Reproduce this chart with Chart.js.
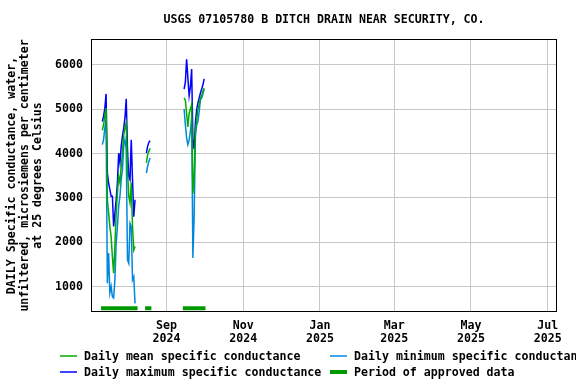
<!DOCTYPE html>
<html>
<head>
<meta charset="utf-8">
<script src="https://cdn.jsdelivr.net/npm/chart.js@4"></script>
<style>
  html, body { margin: 0; padding: 0; background: #fff; }
</style>
</head>
<body>
<canvas id="myChart" width="576" height="384"></canvas>
<script>
'use strict';

// days with data (consecutive days inside each range)
const dataRanges = [['2024-07-12', '2024-08-07'], ['2024-08-16', '2024-08-19'], ['2024-09-15', '2024-10-01']];

const meanVals = [
    4520, 4650, 4850, 5020, 2960, 2660, 2360, 2130, 1680, 1310, 1910, 2660, 3110, 3490,
    3340, 3710, 4010, 4420, 4570, 4690, 3640, 3040, 2890, 3340, 2360, 1830, 1910,
    3790, 3970, 4050, 4120,
    5250, 5200, 4900, 4600, 4900, 5000, 5100, 3100, 3500, 4500, 4760, 4990, 5100, 5250, 5300, 5400, 5470
];
const minVals = [
    4200, 4310, 4570, 4760, 1080, 1760, 860, 1010, 780, 750, 1160, 1980, 2360, 2810,
    3040, 3410, 3640, 4160, 4310, 4090, 1610, 1530, 2430, 2360, 1160, 1230, 630,
    3560, 3710, 3820, 3900,
    5000, 4650, 4350, 4200, 4300, 4500, 4800, 1650, 2600, 4400, 4650, 4720, 4950, 5210, 5250, 5350, 5440
];
const maxVals = [
    4720, 4840, 5020, 5340, 3560, 3340, 3190, 3040, 3040, 2360, 2660, 2960, 3340, 4010,
    3790, 4160, 4390, 4570, 4800, 5230, 4090, 3490, 3410, 4310, 3410, 2580, 2960,
    4010, 4160, 4250, 4290,
    5450, 5600, 6120, 5700, 5300, 5500, 5900, 4300, 4100, 4700, 4990, 5140, 5250, 5360, 5450, 5550, 5680
];

const approvedPeriods = [['2024-07-11', '2024-08-09'], ['2024-08-15', '2024-08-20'], ['2024-09-14', '2024-10-02']];
const approvedLevel = 520;

const tickDates = ['2024-09-01', '2024-11-01', '2025-01-01', '2025-03-01', '2025-05-01', '2025-07-01'];
const tickLabels = [['Sep', '2024'], ['Nov', '2024'], ['Jan', '2025'], ['Mar', '2025'], ['May', '2025'], ['Jul', '2025']];
const yTicks = [1000, 2000, 3000, 4000, 5000, 6000];

function dayNum(s) {
    const [y, m, d] = s.split('-').map(Number);
    return Date.UTC(y, m - 1, d) / 86400000;
}

const days = [];
dataRanges.forEach(([a, b]) => {
    for (let d = dayNum(a); d <= dayNum(b); d++) days.push(d);
});
const pts = vals => vals.map((v, i) => ({x: days[i], y: v}));

const approvedPts = [];
approvedPeriods.forEach(([a, b]) => {
    approvedPts.push({x: dayNum(a), y: approvedLevel}, {x: dayNum(b), y: approvedLevel}, {x: dayNum(b), y: null});
});

const mono = "'DejaVu Sans Mono', monospace";
const font = {family: mono, size: 11.6, weight: 'bold', lineHeight: '13px'};
const sep1 = dayNum('2024-09-01');

const legendItems = [
    {text: 'Daily mean specific conductance', color: '#00aa00', lw: 1.5, x: 60, y: 356},
    {text: 'Daily minimum specific conductance', color: '#0088dd', lw: 1.5, x: 330, y: 356},
    {text: 'Daily maximum specific conductance', color: '#0000ff', lw: 1.5, x: 60, y: 372},
    {text: 'Period of approved data', color: '#009900', lw: 4, x: 330, y: 372}
];

const extras = {
    id: 'extras',
    afterDraw(chart) {
        const {ctx, chartArea: a} = chart;
        ctx.save();
        ctx.strokeStyle = '#000';
        ctx.lineWidth = 1;
        ctx.strokeRect(a.left + 0.5, a.top + 0.5, a.right - a.left - 1, a.bottom - a.top - 1);
        ctx.font = 'bold 11.6px ' + mono;
        ctx.textBaseline = 'middle';
        ctx.fillStyle = '#000';
        legendItems.forEach(it => {
            ctx.strokeStyle = it.color;
            ctx.lineWidth = it.lw;
            ctx.beginPath();
            ctx.moveTo(it.x, it.y);
            ctx.lineTo(it.x + 17, it.y);
            ctx.stroke();
            ctx.fillText(it.text, it.x + 24, it.y + 1);
        });
        ctx.restore();
    }
};

const line = (label, data, color, width) => ({
    label: label,
    data: data,
    borderColor: color,
    backgroundColor: color,
    borderWidth: width,
    pointRadius: 0,
    tension: 0,
    fill: false
});

const ctx = document.getElementById('myChart').getContext('2d');
const myChart = new Chart(ctx, {
    type: 'line',
    data: {
        datasets: [
            Object.assign(line('Daily mean specific conductance', pts(meanVals), '#00aa00', 1.5), {spanGaps: 1.5}),
            Object.assign(line('Daily maximum specific conductance', pts(maxVals), '#0000ff', 1.5), {spanGaps: 1.5}),
            Object.assign(line('Daily minimum specific conductance', pts(minVals), '#0088dd', 1.5), {spanGaps: 1.5}),
            Object.assign(line('Period of approved data', approvedPts, '#009900', 4), {spanGaps: false, borderCapStyle: 'butt'})
        ]
    },
    options: {
        responsive: false,
        animation: false,
        devicePixelRatio: 1,
        layout: {padding: {top: 0, left: 0, bottom: 0, right: 19}},
        plugins: {
            legend: {display: false},
            tooltip: {enabled: false},
            title: {
                display: true,
                text: 'USGS 07105780 B DITCH DRAIN NEAR SECURITY, CO.',
                color: '#000',
                font: {family: mono, size: 11.6, weight: 'bold', lineHeight: '14px'},
                padding: {top: 13, bottom: 12},
                fullSize: false
            }
        },
        scales: {
            x: {
                type: 'linear',
                min: sep1 - 60,
                max: sep1 + 310.4,
                afterBuildTicks: s => { s.ticks = tickDates.map(d => ({value: dayNum(d)})); },
                afterFit: s => { s.height = 72; },
                ticks: {
                    autoSkip: false,
                    maxRotation: 0,
                    padding: 7,
                    color: '#000',
                    font: font,
                    callback: (v) => {
                        const i = tickDates.findIndex(d => dayNum(d) === v);
                        return i >= 0 ? tickLabels[i] : '';
                    }
                },
                grid: {color: '#c8c8c8', lineWidth: 1, drawTicks: false},
                border: {display: false}
            },
            y: {
                min: 436,
                max: 6575,
                afterBuildTicks: s => { s.ticks = yTicks.map(v => ({value: v})); },
                afterFit: s => { s.width = 91; },
                ticks: {padding: 8, color: '#000', font: font, callback: v => String(v)},
                grid: {color: '#c8c8c8', lineWidth: 1, drawTicks: false},
                border: {display: false},
                title: {
                    display: true,
                    text: ['DAILY Specific conductance, water,', 'unfiltered, microsiemens per centimeter', 'at 25 degrees Celsius'],
                    color: '#000',
                    font: font,
                    padding: {top: 5.5, bottom: 0}
                }
            }
        }
    },
    plugins: [extras]
});
</script>
</body>
</html>
